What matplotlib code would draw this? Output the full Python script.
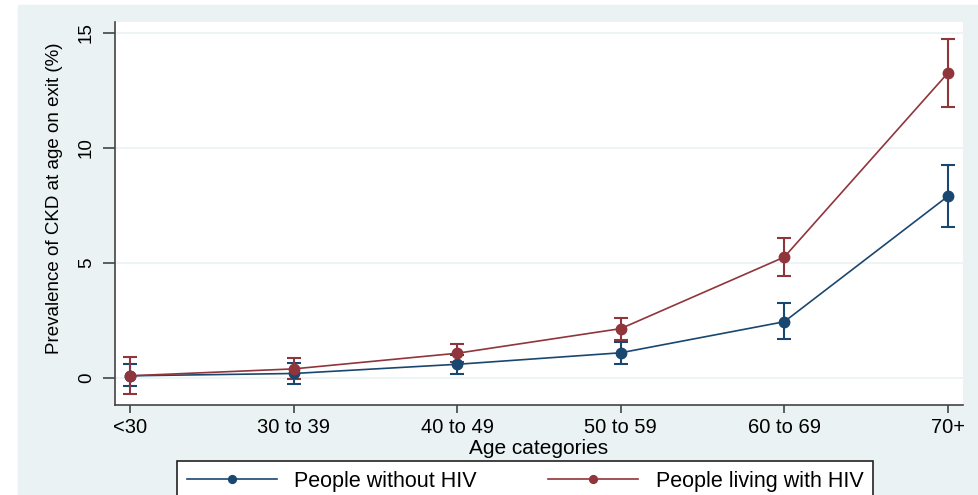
import matplotlib.pyplot as plt

plt.rcParams['font.family'] = ['Liberation Sans', 'DejaVu Sans']

# Data
age_groups = ['<30', '30 to 39', '40 to 49', '50 to 59', '60 to 69', '70+']
no_hiv = [0.1, 0.2, 0.6, 1.1, 2.45, 7.9]
no_hiv_lo = [-0.35, -0.25, 0.17, 0.6, 1.7, 6.55]
no_hiv_hi = [0.6, 0.65, 1.0, 1.55, 3.25, 9.25]
hiv = [0.1, 0.4, 1.08, 2.15, 5.26, 13.26]
hiv_lo = [-0.7, -0.05, 0.7, 1.65, 4.43, 11.8]
hiv_hi = [0.9, 0.87, 1.48, 2.6, 6.1, 14.75]

blue = '#1a476f'
red = '#90353b'
bg = '#eaf2f3'

fig = plt.figure(figsize=(9.79, 4.95), dpi=100)
fig.patches.append(plt.Rectangle((18 / 979, 0), 1, 1 - 5 / 495,
                                 transform=fig.transFigure, color=bg, zorder=-10))
ax = fig.add_axes([0.1175, 0.1818, 0.866, 0.7738])
ax.set_facecolor('white')

x = list(range(len(age_groups)))
for vals, lo, hi, col, lab in [(no_hiv, no_hiv_lo, no_hiv_hi, blue, 'People without HIV'),
                               (hiv, hiv_lo, hiv_hi, red, 'People living with HIV')]:
    err = [[v - l for v, l in zip(vals, lo)], [h - v for v, h in zip(vals, hi)]]
    ax.errorbar(x, vals, yerr=err, fmt='none', ecolor=col, elinewidth=1.5,
                capsize=5, capthick=1.5, zorder=3)
    ax.plot(x, vals, color=col, marker='o', markersize=7.5, linewidth=1.2,
            label=lab, zorder=4)

ax.set_xlim(-0.092, 5.092)
ax.set_ylim(-1.17, 15.48)
ax.set_xticks(x)
ax.set_xticklabels(age_groups, fontsize=14.5)
ax.set_yticks([0, 5, 10, 15])
ax.set_yticklabels(['0', '5', '10', '15'], fontsize=13.5, rotation=90, va='center')
ax.yaxis.grid(True, color=bg, linewidth=1.2)
ax.set_axisbelow(True)
for s in ['top', 'right']:
    ax.spines[s].set_visible(False)
for s in ['left', 'bottom']:
    ax.spines[s].set_color('#444444')
    ax.spines[s].set_linewidth(1.2)
ax.tick_params(axis='x', length=6, width=1.2, color='#444444', pad=3)
ax.tick_params(axis='y', length=8.5, width=1.2, color='#444444', pad=6)

ax.set_xlabel('Age categories', fontsize=15, labelpad=2)
ax.set_ylabel('Prevalence of CKD at age on exit (%)', fontsize=13.5)
ax.yaxis.set_label_coords(-0.061, 0.54)

leg = fig.legend(loc='upper left', bbox_to_anchor=(177 / 979, 1 - 461 / 495),
                 borderaxespad=0, ncol=2, fontsize=15.5, frameon=True,
                 fancybox=False, framealpha=1, facecolor='white',
                 edgecolor='#222222', handlelength=4.2, columnspacing=3.3,
                 borderpad=0.45, handletextpad=0.8, markerscale=0.75)
leg.get_frame().set_linewidth(1.2)

plt.savefig('out.png', dpi=100)
